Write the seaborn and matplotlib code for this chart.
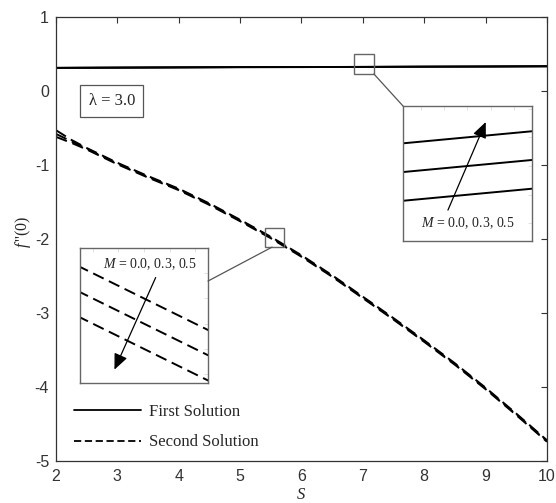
import matplotlib
matplotlib.use("Agg")
import matplotlib.pyplot as plt
import seaborn as sns
import pandas as pd
from matplotlib.patches import Rectangle, ConnectionPatch
from matplotlib.lines import Line2D

# ---------------- data ----------------
S_first = [2, 3, 4, 5, 6, 7, 8, 9, 10]
first_M00 = [0.312, 0.315, 0.318, 0.321, 0.322, 0.325, 0.328, 0.330, 0.333]
first_M03 = [0.313, 0.316, 0.319, 0.322, 0.323, 0.326, 0.329, 0.331, 0.334]
first_M05 = [0.314, 0.317, 0.320, 0.323, 0.324, 0.327, 0.330, 0.332, 0.335]

S_second = [2, 2.25, 2.5, 3, 3.5, 4, 4.5, 5, 5.5, 6, 6.5, 7, 7.5, 8, 8.5, 9, 9.5, 10]
second_M00 = [-0.53, -0.66, -0.77, -0.97, -1.15, -1.32, -1.52, -1.74, -1.97, -2.22,
              -2.49, -2.78, -3.07, -3.37, -3.68, -4.01, -4.36, -4.72]
second_M03 = [-0.58, -0.68, -0.78, -0.98, -1.16, -1.33, -1.53, -1.75, -1.98, -2.23,
              -2.50, -2.79, -3.08, -3.38, -3.69, -4.02, -4.37, -4.73]
second_M05 = [-0.62, -0.70, -0.79, -0.99, -1.17, -1.34, -1.54, -1.76, -1.99, -2.24,
              -2.51, -2.80, -3.09, -3.39, -3.70, -4.03, -4.38, -4.74]

M_values = ["0.0", "0.3", "0.5"]
x_ticks = [2, 3, 4, 5, 6, 7, 8, 9, 10]
y_ticks = [-5, -4, -3, -2, -1, 0, 1]

first_series = [first_M00, first_M03, first_M05]
second_series = [second_M00, second_M03, second_M05]

# ---------------- style ----------------
sns.set_theme(style="white")
plt.rcParams["font.family"] = ["Liberation Sans", "DejaVu Sans"]
plt.rcParams["mathtext.fontset"] = "custom"
plt.rcParams["mathtext.rm"] = "Liberation Serif"
plt.rcParams["mathtext.it"] = "Liberation Serif:italic"
plt.rcParams["mathtext.bf"] = "Liberation Serif:bold"

SERIF = ["Liberation Serif", "DejaVu Serif"]
DASH = (0, (6, 3))

fig = plt.figure(figsize=(5.56, 5.03), dpi=100)
fig.patch.set_facecolor("white")
ax = fig.add_axes([0.1007, 0.0835, 0.8831, 0.8827])


def draw_lines(a, lw_solid=1.3, lw_dash=1.4, dash=DASH):
    for ys in first_series:
        sns.lineplot(x=S_first, y=ys, ax=a, color="black", lw=lw_solid,
                     label="_nolegend_")
    for ys in second_series:
        sns.lineplot(x=S_second, y=ys, ax=a, color="black", lw=lw_dash, linestyle=dash,
                     label="_nolegend_")


draw_lines(ax)
ax.set_xlim(2, 10)
ax.set_ylim(-5, 1)
ax.set_xticks(x_ticks)
ax.set_yticks(y_ticks)
ax.tick_params(direction="in", length=4, width=0.8, top=True, right=True,
               labelsize=11.5, labelcolor="#333333", color="#333333")
ax.tick_params(axis="x", pad=6)
ax.tick_params(axis="y", pad=5)
ax.set_xticklabels([str(t) for t in x_ticks])
ax.set_yticklabels([str(t) for t in y_ticks])
for sp in ax.spines.values():
    sp.set_color("#333333")
    sp.set_linewidth(0.9)

ax.set_xlabel(r"$S$", fontsize=12)
ax.xaxis.set_label_coords(0.5, -0.058)
ax.set_ylabel(r"$f\,$''(0)", fontsize=11.5, family=SERIF)
ax.yaxis.set_label_coords(-0.046, 0.516)

# legend
handles = [Line2D([], [], color="black", lw=1.3),
           Line2D([], [], color="black", lw=1.3, linestyle=(0, (4, 2)))]
leg = ax.legend(handles, ["First Solution", "Second Solution"], loc="lower left",
                bbox_to_anchor=(0.006, -0.01), frameon=False, handlelength=4.0,
                handletextpad=0.5, labelspacing=0.85,
                prop={"family": SERIF, "size": 12})

# lambda box
ax.text(0.114, 0.811, "λ = 3.0", transform=ax.transAxes, ha="center", va="center",
        fontsize=12, family=SERIF,
        bbox=dict(boxstyle="square,pad=0.5", fc="white", ec="#555555", lw=0.9))

# indicator boxes on main axes
ax.add_patch(Rectangle((6.85, 0.23), 0.33, 0.27, fill=False, ec="#666666", lw=1.0, zorder=5))
ax.add_patch(Rectangle((5.40, -2.11), 0.31, 0.26, fill=False, ec="#666666", lw=1.0, zorder=5))

# ---------------- inset 1 (first solution) ----------------
ax1 = fig.add_axes([0.7248, 0.5209, 0.2320, 0.2684])
draw_lines(ax1, lw_solid=1.4)
ax1.set_xlim(6.93, 7.07)
ax1.set_ylim(0.32339, 0.32809)

# ---------------- inset 2 (second solution) ----------------
ax2 = fig.add_axes([0.1439, 0.2386, 0.2302, 0.2684])
draw_lines(ax2, lw_dash=1.4, dash=(0, (6, 3)))
ax2.set_xlim(5.575, 5.625)
ax2.set_ylim(-2.0535, -2.0)

for a in (ax1, ax2):
    a.set_xlabel("")
    a.set_ylabel("")
    a.set_facecolor("white")
    a.tick_params(direction="in", length=3, width=0.6, color="#dddddd",
                  top=True, right=True, labelbottom=False, labelleft=False)
    a.locator_params(nbins=6)
    for sp in a.spines.values():
        sp.set_color("#666666")
        sp.set_linewidth(1.0)

# annotations inside insets
ax1.annotate("", xy=(0.65, 0.90), xytext=(0.34, 0.21), xycoords="axes fraction",
             arrowprops=dict(arrowstyle="-|>,head_length=0.8,head_width=0.35",
                             color="black", lw=0.9))
ax1.text(0.50, 0.13, r"$M$ = 0.0, 0.3, 0.5", transform=ax1.transAxes, ha="center",
         va="center", fontsize=10, family=SERIF, color="#222222")

ax2.annotate("", xy=(0.26, 0.08), xytext=(0.60, 0.80), xycoords="axes fraction",
             arrowprops=dict(arrowstyle="-|>,head_length=0.8,head_width=0.35",
                             color="black", lw=0.9))
ax2.text(0.55, 0.88, r"$M$ = 0.0, 0.3, 0.5", transform=ax2.transAxes, ha="center",
         va="center", fontsize=10, family=SERIF, color="#222222")

# connectors
c1 = ConnectionPatch(xyA=(7.18, 0.23), coordsA=ax.transData,
                     xyB=(0.0, 1.0), coordsB=ax1.transAxes, color="#555555", lw=0.9)
fig.add_artist(c1)
c2 = ConnectionPatch(xyA=(5.52, -2.11), coordsA=ax.transData,
                     xyB=(1.0, 0.755), coordsB=ax2.transAxes, color="#555555", lw=0.9)
fig.add_artist(c2)

fig.savefig("out.png", dpi=100, facecolor="white")
